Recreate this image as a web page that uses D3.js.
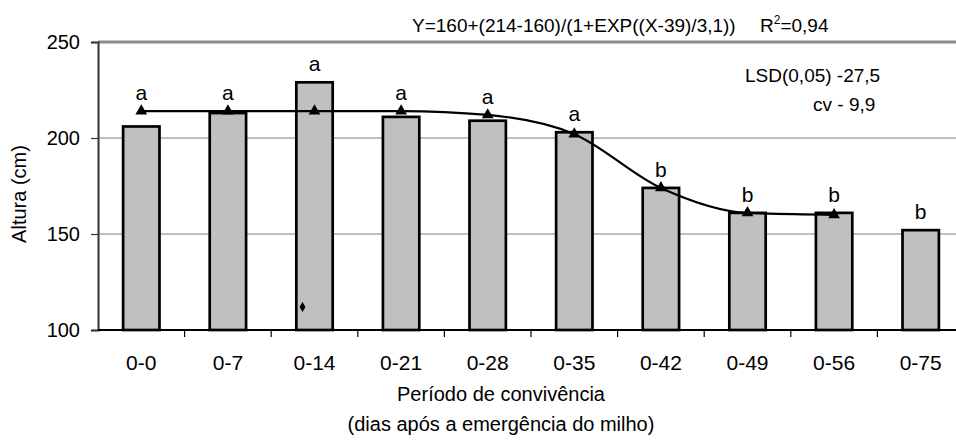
<!DOCTYPE html>
<html>
<head>
<meta charset="utf-8">
<script src="https://cdn.jsdelivr.net/npm/d3@7"></script>
<style>
  body { margin: 0; background: #fff; }
  text { font-family: 'Liberation Sans', Arial, sans-serif; fill: #000; }
</style>
</head>
<body>
<div id="chart"></div>
<script>
const width = 956;
const height = 441;

// data
const periods = ['0-0', '0-7', '0-14', '0-21', '0-28', '0-35', '0-42', '0-49', '0-56', '0-75'];
const alturas = [206, 213, 229, 211, 209, 203, 174, 161, 161, 152];
const letras = ['a', 'a', 'a', 'a', 'a', 'a', 'b', 'b', 'b', 'b'];
const ajustado = [214, 214, 214, 214, 212, 202, 174, 161, 160];
const avulso = [{period: '0-14', value: 112}];
const yTicks = [100, 150, 200, 250];

const barGrey = '#c0c0c0';
const gridGrey = '#808080';

buildChart();

function buildChart() {

    const svg = d3.select('#chart')
        .append('svg')
        .attr('width', width)
        .attr('height', height);

    const x = d3.scaleBand()
        .domain(periods)
        .range([98, 964])
        .paddingInner(0.58)
        .paddingOuter(0.29);

    const y = d3.scaleLinear()
        .domain([100, 250])
        .range([330, 42]);

    const step = x.step();
    const cx = (p) => x(p) + x.bandwidth() / 2;

    // gridlines
    svg.append('g')
        .selectAll('line')
        .data(yTicks.filter(t => t > 100 && t < 250))
        .enter()
        .append('line')
        .attr('x1', 98)
        .attr('x2', width)
        .attr('y1', d => y(d))
        .attr('y2', d => y(d))
        .attr('stroke', gridGrey)
        .attr('stroke-width', 1);

    // top border of plot area
    svg.append('line')
        .attr('x1', 98)
        .attr('x2', width)
        .attr('y1', y(250))
        .attr('y2', y(250))
        .attr('stroke', '#8c8c8c')
        .attr('stroke-width', 3);

    // bars
    svg.append('g')
        .selectAll('rect')
        .data(periods)
        .enter()
        .append('rect')
        .attr('x', d => x(d))
        .attr('y', (d, i) => y(alturas[i]))
        .attr('width', x.bandwidth())
        .attr('height', (d, i) => y(100) - y(alturas[i]))
        .attr('fill', barGrey)
        .attr('stroke', '#000')
        .attr('stroke-width', 2.7);

    // y axis
    const yAxis = svg.append('g')
        .attr('transform', 'translate(98,0)')
        .call(d3.axisLeft(y).tickValues(yTicks).tickSize(7).tickPadding(11));
    yAxis.select('.domain').attr('stroke', '#333').attr('stroke-width', 2);
    yAxis.selectAll('.tick line').attr('stroke', '#333').attr('stroke-width', 1.2);
    yAxis.selectAll('.tick text')
        .style('font-size', '20px')
        .style('font-family', "'Liberation Sans', Arial, sans-serif");

    // x axis line and boundary ticks
    svg.append('line')
        .attr('x1', 98)
        .attr('x2', width)
        .attr('y1', y(100))
        .attr('y2', y(100))
        .attr('stroke', '#000')
        .attr('stroke-width', 2);

    svg.append('g')
        .selectAll('line')
        .data(periods)
        .enter()
        .append('line')
        .attr('x1', d => cx(d) + step / 2)
        .attr('x2', d => cx(d) + step / 2)
        .attr('y1', y(100))
        .attr('y2', y(100) + 7)
        .attr('stroke', '#000')
        .attr('stroke-width', 1.2);

    svg.append('g')
        .selectAll('text')
        .data(periods)
        .enter()
        .append('text')
        .attr('x', d => cx(d))
        .attr('y', 370)
        .attr('text-anchor', 'middle')
        .style('font-size', '21px')
        .text(d => d);

    // fitted curve
    const fitPts = ajustado.map((v, i) => ({x: cx(periods[i]), y: y(v)}));
    const fitLine = d3.line()
        .x(d => d.x)
        .y(d => d.y)
        .curve(d3.curveMonotoneX);

    svg.append('path')
        .datum(fitPts)
        .attr('d', fitLine)
        .attr('fill', 'none')
        .attr('stroke', '#000')
        .attr('stroke-width', 2.2);

    svg.append('g')
        .selectAll('path')
        .data(fitPts)
        .enter()
        .append('path')
        .attr('d', d3.symbol().type(d3.symbolTriangle).size(60))
        .attr('transform', d => `translate(${d.x},${d.y})`)
        .attr('fill', '#000');

    // stray point
    svg.append('g')
        .selectAll('path')
        .data(avulso)
        .enter()
        .append('path')
        .attr('d', d3.symbol().type(d3.symbolDiamond).size(30))
        .attr('transform', d => `translate(${cx(d.period) - 12},${y(d.value)})`)
        .attr('fill', '#000');

    // letters
    svg.append('g')
        .selectAll('text')
        .data(periods)
        .enter()
        .append('text')
        .attr('x', d => cx(d))
        .attr('y', (d, i) => y(Math.max(alturas[i], ajustado[i] || 0)) - 11)
        .attr('text-anchor', 'middle')
        .style('font-size', '21px')
        .text((d, i) => letras[i]);

    // annotations
    const eq = svg.append('text')
        .attr('x', 412)
        .attr('y', 32)
        .style('font-size', '19px');
    eq.append('tspan').text('Y=160+(214-160)/(1+EXP((X-39)/3,1))');
    eq.append('tspan').attr('x', 760).text('R');
    eq.append('tspan').attr('dy', -8).style('font-size', '12px').text('2');
    eq.append('tspan').attr('dy', 8).text('=0,94');

    svg.append('text')
        .attr('x', 745)
        .attr('y', 82)
        .style('font-size', '19px')
        .text('LSD(0,05) -27,5');

    svg.append('text')
        .attr('x', 813)
        .attr('y', 111)
        .style('font-size', '19px')
        .text('cv - 9,9');

    svg.append('text')
        .attr('transform', 'translate(26,194) rotate(-90)')
        .attr('text-anchor', 'middle')
        .style('font-size', '20px')
        .text('Altura (cm)');

    svg.append('text')
        .attr('x', 501)
        .attr('y', 401)
        .attr('text-anchor', 'middle')
        .style('font-size', '20px')
        .text('Período de convivência');

    svg.append('text')
        .attr('x', 501)
        .attr('y', 431)
        .attr('text-anchor', 'middle')
        .style('font-size', '20px')
        .text('(dias após a emergência do milho)');
}
</script>
</body>
</html>
